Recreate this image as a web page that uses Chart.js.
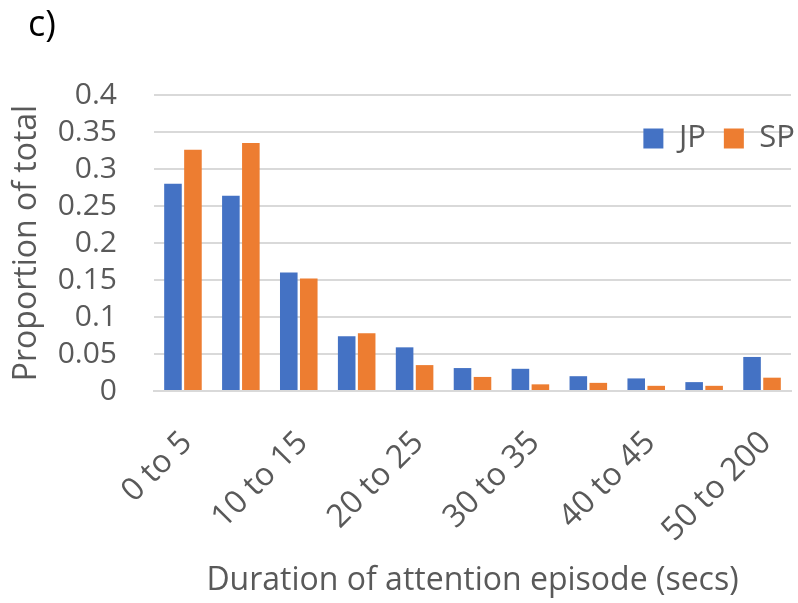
<!DOCTYPE html>
<html>
<head>
<meta charset="utf-8">
<script src="https://cdn.jsdelivr.net/npm/chart.js@4.4.1/dist/chart.umd.min.js"></script>
<style>
  html, body { margin: 0; padding: 0; background: #fff; }
  #wrap { width: 798px; height: 603px; }
</style>
</head>
<body>
<div id="wrap"><canvas id="myChart" width="798" height="603"></canvas></div>
<script>
// duration bins (secs)
const categories = ["0 to 5", "5 to 10", "10 to 15", "15 to 20", "20 to 25", "25 to 30",
  "30 to 35", "35 to 40", "40 to 45", "45 to 50", "50 to 200"];
const jpValues = [0.280, 0.264, 0.160, 0.074, 0.059, 0.031, 0.030, 0.020, 0.017, 0.012, 0.046];
const spValues = [0.326, 0.335, 0.152, 0.078, 0.035, 0.019, 0.009, 0.011, 0.007, 0.007, 0.018];
const yTicks = [0, 0.05, 0.1, 0.15, 0.2, 0.25, 0.3, 0.35, 0.4];

const grey = "#595959";
const fontFamily = "'Open Sans', sans-serif";

// panel letter in the corner
const panelLabel = {
  id: "panelLabel",
  afterDraw: (chart) => {
    const ctx = chart.ctx;
    ctx.save();
    ctx.fillStyle = "#000";
    ctx.font = "36px " + fontFamily;
    ctx.textBaseline = "top";
    ctx.fillText("c)", 28, 8);
    ctx.restore();
  },
};

// push the legend down into the plot, like excel does
const legendInside = {
  id: "legendInside",
  afterLayout: (chart) => {
    const lg = chart.legend;
    const h = lg.bottom - lg.top;
    lg.top = chart.chartArea.top + 10;
    lg.bottom = lg.top + h;
    lg.left += 22;
    lg.right += 22;
  },
};

const chart = new Chart(document.querySelector("#myChart"), {
  type: "bar",
  data: {
    labels: categories,
    datasets: [
      { label: "JP", data: jpValues, backgroundColor: "#4472C4", categoryPercentage: 0.69, barPercentage: 0.88 },
      { label: "SP", data: spValues, backgroundColor: "#ED7D31", categoryPercentage: 0.69, barPercentage: 0.88 },
    ],
  },
  options: {
    responsive: false,
    animation: false,
    devicePixelRatio: 1,
    layout: { padding: { top: 36, left: 8, right: 7, bottom: 0 } },
    plugins: {
      tooltip: { enabled: false },
      legend: {
        position: "top",
        align: "end",
        labels: {
          boxWidth: 20,
          boxHeight: 20,
          padding: 18,
          color: grey,
          font: { family: fontFamily, size: 31 },
        },
      },
    },
    scales: {
      x: {
        afterFit: (axis) => {
          axis.height = 212;
          // labels may hang over the edges, keep the plot full width
          axis.paddingLeft = 0;
          axis.paddingRight = 0;
        },
        grid: { display: false, drawTicks: false },
        border: { display: true, color: "#d9d9d9", width: 2 },
        ticks: {
          autoSkip: false,
          minRotation: 45,
          maxRotation: 45,
          padding: 33,
          labelOffset: 4,
          color: grey,
          font: { family: fontFamily, size: 32 },
          callback: (v, i) => (i % 2 === 0 ? categories[i] : ""),
        },
        title: {
          display: true,
          text: "Duration of attention episode (secs)",
          color: grey,
          font: { family: fontFamily, size: 32 },
          padding: { top: 0, bottom: 3 },
        },
      },
      y: {
        min: yTicks[0],
        max: yTicks[yTicks.length - 1],
        afterBuildTicks: (axis) => {
          axis.ticks = yTicks.map((v) => ({ value: v }));
        },
        afterFit: (axis) => {
          axis.width = 146;
        },
        grid: { color: "#d9d9d9", lineWidth: 2, drawTicks: false },
        border: { display: false },
        ticks: {
          autoSkip: false,
          padding: 37,
          color: grey,
          font: { family: fontFamily, size: 30 },
          callback: (v) => String(+v.toFixed(2)),
        },
        title: {
          display: true,
          text: "Proportion of total",
          color: grey,
          font: { family: fontFamily, size: 32 },
          padding: { top: 0, bottom: 4 },
        },
      },
    },
  },
  plugins: [panelLabel, legendInside],
});
</script>
</body>
</html>
